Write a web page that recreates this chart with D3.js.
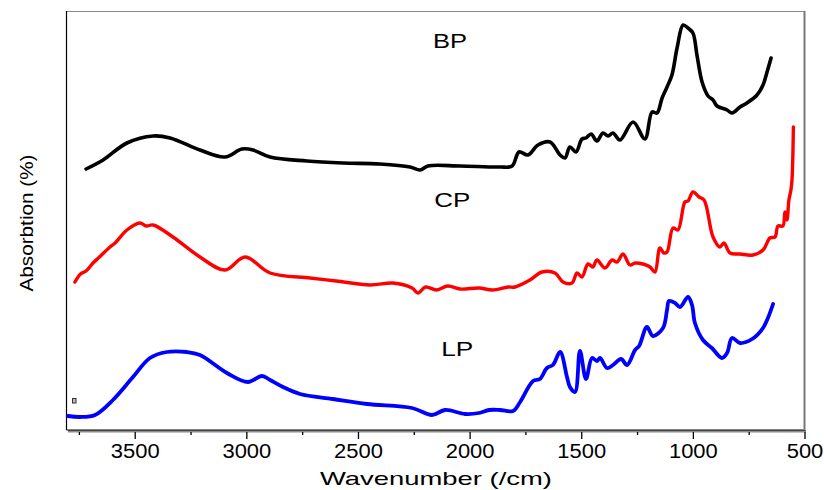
<!DOCTYPE html>
<html>
<head>
<meta charset="utf-8">
<script src="https://cdn.jsdelivr.net/npm/d3@7"></script>
<style>
  body { margin: 0; background: #fff; }
  svg { display: block; font-family: "Liberation Sans", Arial, sans-serif; }
</style>
</head>
<body>
<svg id="chart" width="824" height="490"></svg>
<script>
// FTIR spectra, offset stacked. x = wavenumber (/cm), y = absorption (arbitrary offset units)
const bpWave = [3720, 3644, 3537, 3420, 3344, 3210, 3098, 3022, 2972, 2896, 2731, 2569, 2404, 2269, 2224, 2189, 2045, 1866, 1812,
  1781, 1741, 1696, 1642, 1597, 1575, 1553, 1526, 1499, 1481, 1458, 1432, 1405, 1382, 1360, 1329, 1270, 1217, 1185, 1163,
  1140, 1118, 1096, 1073, 1046, 1024, 1002, 984, 961, 934, 912, 894, 849, 827, 791, 760, 715, 688, 670, 652];
const bpAbs = [260, 269, 286, 293, 291, 279, 272, 280, 279, 272, 268, 266, 265, 262, 259, 263, 263, 262, 263,
  277, 274, 284, 287, 274, 271, 282, 277, 290, 291, 295, 288, 296, 293, 296, 289, 307, 290, 317, 316,
  331, 342, 354, 381, 404, 401, 396, 374, 347, 333, 329, 323, 319, 316, 322, 326, 334, 344, 357, 371];

const cpWave = [3770, 3745, 3720, 3689, 3660, 3613, 3590, 3537, 3479, 3450, 3420, 3331, 3210, 3098, 3008, 2896, 2717, 2600, 2448,
  2345, 2260, 2233, 2200, 2150, 2100, 2045, 1960, 1900, 1830, 1799, 1732, 1678, 1620, 1584, 1544, 1521, 1499, 1472, 1450,
  1432, 1396, 1364, 1342, 1315, 1284, 1261, 1226, 1194, 1172, 1150, 1132, 1118, 1091, 1069, 1038, 1024, 1002, 975, 952,
  912, 881, 863, 836, 791, 733, 688, 657, 634, 621, 599, 590, 581, 572, 563, 558, 552];
const cpAbs = [147, 155, 158, 166, 172, 182, 186, 199, 206, 203, 204, 192, 172, 159, 172, 156, 151, 148, 144,
  146, 141, 136, 142, 139, 143, 140, 141, 139, 142, 142, 149, 157, 156, 147, 146, 156, 152, 165, 162,
  169, 161, 169, 167, 175, 164, 166, 165, 162, 157, 181, 176, 177, 201, 199, 227, 228, 237, 232, 229,
  192, 182, 186, 176, 175, 174, 179, 191, 192, 203, 203, 217, 209, 229, 239, 250, 302];

const lpWave = [3801, 3747, 3680, 3600, 3510, 3434, 3358, 3268, 3210, 3089, 2995, 2932, 2896, 2838, 2762, 2614, 2462, 2260,
  2171, 2112, 2023, 1960, 1915, 1866, 1808, 1776, 1718, 1687, 1656, 1629, 1597, 1566, 1553, 1530, 1508, 1481, 1454, 1432,
  1418, 1387, 1360, 1324, 1297, 1261, 1243, 1208, 1181, 1136, 1118, 1109, 1082, 1060, 1024, 1006, 993, 957, 917, 872,
  849, 827, 791, 737, 688, 666, 643];
const lpAbs = [13, 12, 14, 29, 52, 71, 77, 77, 74, 56, 47, 53, 49, 42, 35, 30, 25, 21,
  14, 19, 15, 16, 19, 19, 18, 27, 48, 50, 61, 64, 77, 52, 42, 37, 78, 50, 71, 68,
  71, 61, 64, 70, 64, 79, 83, 102, 93, 101, 119, 128, 126, 122, 132, 124, 106, 89, 81, 71,
  76, 91, 86, 90, 101, 111, 125];

const xTicks = [3500, 3000, 2500, 2000, 1500, 1000, 500];
const minorTicks = [3750, 3250, 2750, 2250, 1750, 1250, 750];

const series = [
  { name: "BP", wave: bpWave, abs: bpAbs, color: "#000000", width: 3.6 },
  { name: "CP", wave: cpWave, abs: cpAbs, color: "#ff0000", width: 3.4 },
  { name: "LP", wave: lpWave, abs: lpAbs, color: "#0000ff", width: 3.8 }
];
const labels = [
  { text: "BP", wave: 2090, abs: 381, len: 34 },
  { text: "CP", wave: 2080, abs: 222, len: 36 },
  { text: "LP", wave: 2058, abs: 73, len: 32 }
];

const svg = d3.select("#chart");
const plot = { left: 66, right: 805, top: 11, bottom: 429 };

const x = d3.scaleLinear().domain([3810, 500]).range([plot.left, plot.right]);
const y = d3.scaleLinear().domain([0, 418]).range([plot.bottom, plot.top]);

//Frame: thin gray top/right, black left, bottom with gray shadow
svg.append("line").attr("x1", plot.left).attr("x2", plot.right).attr("y1", plot.top + 0.5).attr("y2", plot.top + 0.5)
  .attr("stroke", "#8a8a8a").attr("stroke-width", 1);
svg.append("line").attr("x1", plot.right - 0.5).attr("x2", plot.right - 0.5).attr("y1", plot.top).attr("y2", plot.bottom)
  .attr("stroke", "#777").attr("stroke-width", 2);
svg.append("rect").attr("x", plot.left + 2).attr("y", plot.bottom + 1).attr("width", plot.right - plot.left - 1).attr("height", 2.5)
  .attr("fill", "#8c8c8c");
svg.append("line").attr("x1", plot.left + 0.5).attr("x2", plot.left + 0.5).attr("y1", plot.top).attr("y2", plot.bottom + 1)
  .attr("stroke", "#000").attr("stroke-width", 1.2);

//Bottom axis: major + minor ticks
const xAxis = svg.append("g").attr("transform", `translate(0,${plot.bottom + 0.5})`)
  .call(d3.axisBottom(x).tickValues(xTicks).tickSize(0).tickPadding(0).tickFormat(""));
xAxis.select(".domain").attr("stroke", "#000").attr("stroke-width", 1);

svg.append("g").selectAll("line").data(xTicks).join("line")
  .attr("x1", d => x(d)).attr("x2", d => x(d)).attr("y1", plot.bottom + 3).attr("y2", plot.bottom + 10)
  .attr("stroke", "#000").attr("stroke-width", 1.3);
svg.append("g").selectAll("line").data(minorTicks).join("line")
  .attr("x1", d => x(d)).attr("x2", d => x(d)).attr("y1", plot.bottom + 3).attr("y2", plot.bottom + 6)
  .attr("stroke", "#000").attr("stroke-width", 1.3);

svg.append("g").selectAll("text").data(xTicks).join("text")
  .attr("x", d => x(d)).attr("y", 458)
  .attr("text-anchor", "middle")
  .attr("font-size", 20)
  .attr("textLength", d => String(d).length * 12.2)
  .attr("lengthAdjust", "spacingAndGlyphs")
  .text(d => d);

//Axis titles
svg.append("text")
  .attr("x", 436).attr("y", 485)
  .attr("text-anchor", "middle")
  .attr("font-size", 19)
  .attr("textLength", 232)
  .attr("lengthAdjust", "spacingAndGlyphs")
  .text("Wavenumber (/cm)");

svg.append("text")
  .attr("transform", "translate(33,223) rotate(-90)")
  .attr("text-anchor", "middle")
  .attr("font-size", 18)
  .attr("textLength", 137)
  .attr("lengthAdjust", "spacingAndGlyphs")
  .text("Absorbtion (%)");

//Spectra
const line = d3.line()
  .x(d => x(d[0]))
  .y(d => y(d[1]))
  .curve(d3.curveCatmullRom.alpha(0.5));

series.forEach(s => {
  const pts = s.wave.map((w, i) => [w, s.abs[i]]);
  svg.append("path")
    .datum(pts)
    .attr("fill", "none")
    .attr("stroke", s.color)
    .attr("stroke-width", s.width)
    .attr("stroke-linejoin", "round")
    .attr("stroke-linecap", "round")
    .attr("d", line);
});

//Series labels
svg.append("g").selectAll("text").data(labels).join("text")
  .attr("x", d => x(d.wave)).attr("y", d => y(d.abs))
  .attr("text-anchor", "middle")
  .attr("font-size", 21)
  .attr("textLength", d => d.len)
  .attr("lengthAdjust", "spacingAndGlyphs")
  .text(d => d.text);

//Small leftover marker near the lower-left corner
svg.append("rect")
  .attr("x", 72.5).attr("y", 398.5).attr("width", 3.5).attr("height", 4.5)
  .attr("fill", "#bbb").attr("stroke", "#333").attr("stroke-width", 1);
</script>
</body>
</html>
